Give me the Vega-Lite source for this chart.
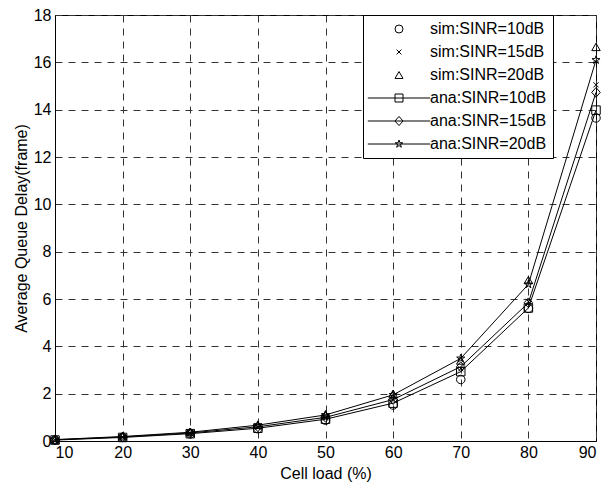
{
  "$schema": "https://vega.github.io/schema/vega-lite/v6.json",
  "width": 541,
  "height": 426,
  "autosize": {"type": "none"},
  "padding": {"left": 55, "top": 15, "right": 7, "bottom": 45},
  "background": "white",
  "config": {
    "font": "Liberation Sans",
    "view": {"stroke": "black", "strokeWidth": 1},
    "axis": {
      "labelFont": "Liberation Sans",
      "labelFontSize": 16,
      "labelColor": "black",
      "titleFont": "Liberation Sans",
      "titleFontSize": 16,
      "titleFontWeight": "normal",
      "titleColor": "black",
      "domainColor": "black",
      "ticks": false,
      "tickSize": 0,
      "grid": true,
      "gridColor": "#333333",
      "gridDash": [7, 6],
      "gridOpacity": 1,
      "gridWidth": 1
    },
    "legend": {
      "labelFont": "Liberation Sans",
      "labelFontSize": 16,
      "labelColor": "black"
    }
  },
  "data": {
    "values": [
      {"load": 10, "delay": 0.04, "series": "sim:SINR=10dB"},
      {"load": 20, "delay": 0.15, "series": "sim:SINR=10dB"},
      {"load": 30, "delay": 0.30, "series": "sim:SINR=10dB"},
      {"load": 40, "delay": 0.52, "series": "sim:SINR=10dB"},
      {"load": 50, "delay": 0.88, "series": "sim:SINR=10dB"},
      {"load": 60, "delay": 1.52, "series": "sim:SINR=10dB"},
      {"load": 70, "delay": 2.60, "series": "sim:SINR=10dB"},
      {"load": 80, "delay": 5.60, "series": "sim:SINR=10dB"},
      {"load": 90, "delay": 13.65, "series": "sim:SINR=10dB"},
      {"load": 10, "delay": 0.05, "series": "sim:SINR=15dB"},
      {"load": 20, "delay": 0.17, "series": "sim:SINR=15dB"},
      {"load": 30, "delay": 0.33, "series": "sim:SINR=15dB"},
      {"load": 40, "delay": 0.58, "series": "sim:SINR=15dB"},
      {"load": 50, "delay": 0.98, "series": "sim:SINR=15dB"},
      {"load": 60, "delay": 1.75, "series": "sim:SINR=15dB"},
      {"load": 70, "delay": 3.05, "series": "sim:SINR=15dB"},
      {"load": 80, "delay": 5.90, "series": "sim:SINR=15dB"},
      {"load": 90, "delay": 15.05, "series": "sim:SINR=15dB"},
      {"load": 10, "delay": 0.06, "series": "sim:SINR=20dB"},
      {"load": 20, "delay": 0.20, "series": "sim:SINR=20dB"},
      {"load": 30, "delay": 0.38, "series": "sim:SINR=20dB"},
      {"load": 40, "delay": 0.68, "series": "sim:SINR=20dB"},
      {"load": 50, "delay": 1.12, "series": "sim:SINR=20dB"},
      {"load": 60, "delay": 2.00, "series": "sim:SINR=20dB"},
      {"load": 70, "delay": 3.40, "series": "sim:SINR=20dB"},
      {"load": 80, "delay": 6.80, "series": "sim:SINR=20dB"},
      {"load": 90, "delay": 16.65, "series": "sim:SINR=20dB"},
      {"load": 10, "delay": 0.04, "series": "ana:SINR=10dB"},
      {"load": 20, "delay": 0.15, "series": "ana:SINR=10dB"},
      {"load": 30, "delay": 0.31, "series": "ana:SINR=10dB"},
      {"load": 40, "delay": 0.54, "series": "ana:SINR=10dB"},
      {"load": 50, "delay": 0.92, "series": "ana:SINR=10dB"},
      {"load": 60, "delay": 1.60, "series": "ana:SINR=10dB"},
      {"load": 70, "delay": 2.93, "series": "ana:SINR=10dB"},
      {"load": 80, "delay": 5.62, "series": "ana:SINR=10dB"},
      {"load": 90, "delay": 13.98, "series": "ana:SINR=10dB"},
      {"load": 10, "delay": 0.05, "series": "ana:SINR=15dB"},
      {"load": 20, "delay": 0.17, "series": "ana:SINR=15dB"},
      {"load": 30, "delay": 0.34, "series": "ana:SINR=15dB"},
      {"load": 40, "delay": 0.60, "series": "ana:SINR=15dB"},
      {"load": 50, "delay": 1.00, "series": "ana:SINR=15dB"},
      {"load": 60, "delay": 1.75, "series": "ana:SINR=15dB"},
      {"load": 70, "delay": 3.14, "series": "ana:SINR=15dB"},
      {"load": 80, "delay": 5.84, "series": "ana:SINR=15dB"},
      {"load": 90, "delay": 14.73, "series": "ana:SINR=15dB"},
      {"load": 10, "delay": 0.06, "series": "ana:SINR=20dB"},
      {"load": 20, "delay": 0.19, "series": "ana:SINR=20dB"},
      {"load": 30, "delay": 0.37, "series": "ana:SINR=20dB"},
      {"load": 40, "delay": 0.67, "series": "ana:SINR=20dB"},
      {"load": 50, "delay": 1.10, "series": "ana:SINR=20dB"},
      {"load": 60, "delay": 1.95, "series": "ana:SINR=20dB"},
      {"load": 70, "delay": 3.49, "series": "ana:SINR=20dB"},
      {"load": 80, "delay": 6.62, "series": "ana:SINR=20dB"},
      {"load": 90, "delay": 16.10, "series": "ana:SINR=20dB"}
    ]
  },
  "encoding": {
    "x": {
      "field": "load", "type": "quantitative",
      "scale": {"domain": [10, 90], "nice": false, "zero": false},
      "axis": {"values": [10, 20, 30, 40, 50, 60, 70, 80, 90], "title": "Cell load (%)", "labelPadding": 3, "titlePadding": 5}
    },
    "y": {
      "field": "delay", "type": "quantitative",
      "scale": {"domain": [0, 18], "nice": false},
      "axis": {"values": [0, 2, 4, 6, 8, 10, 12, 14, 16, 18], "title": "Average Queue Delay(frame)", "labelPadding": 4, "titlePadding": 4}
    }
  },
  "layer": [
    {
      "transform": [{"filter": "indexof(datum.series, 'ana') == 0"}],
      "mark": {"type": "line", "color": "black", "strokeWidth": 1},
      "encoding": {"detail": {"field": "series"}}
    },
    {
      "mark": {"type": "point", "filled": false, "stroke": "black", "strokeWidth": 1, "size": 72, "opacity": 1},
      "encoding": {
        "shape": {
          "field": "series", "type": "nominal",
          "scale": {
            "domain": ["sim:SINR=10dB", "sim:SINR=15dB", "sim:SINR=20dB", "ana:SINR=10dB", "ana:SINR=15dB", "ana:SINR=20dB"],
            "range": [
              "circle",
              "M-0.6,-0.6L0.6,0.6M-0.6,0.6L0.6,-0.6",
              "triangle-up",
              "M-1,-1H1V1H-1Z",
              "M0,-1.15L1,0L0,1.15L-1,0Z",
              "M0,-1L0.225,-0.309L0.951,-0.309L0.363,0.118L0.588,0.809L0,0.382L-0.588,0.809L-0.363,0.118L-0.951,-0.309L-0.225,-0.309Z"
            ]
          },
          "legend": null
        }
      }
    },
    {
      "mark": {"type": "point", "filled": false, "stroke": "black", "strokeWidth": 1, "size": 64, "opacity": 0},
      "encoding": {
        "shape": {
          "field": "series", "type": "nominal",
          "scale": {
            "domain": ["sim:SINR=10dB", "sim:SINR=15dB", "sim:SINR=20dB", "ana:SINR=10dB", "ana:SINR=15dB", "ana:SINR=20dB"],
            "range": [
              "circle",
              "M-0.6,-0.6L0.6,0.6M-0.6,0.6L0.6,-0.6",
              "triangle-up",
              "M-7.8,0H7.8M-1,-1H1V1H-1Z",
              "M-7.8,0H7.8M0,-1.15L1,0L0,1.15L-1,0Z",
              "M-7.8,0H7.8M0,-1L0.225,-0.309L0.951,-0.309L0.363,0.118L0.588,0.809L0,0.382L-0.588,0.809L-0.363,0.118L-0.951,-0.309L-0.225,-0.309Z"
            ]
          },
          "legend": {
            "title": null,
            "orient": "none",
            "legendX": 308,
            "legendY": 0,
            "strokeColor": "black",
            "fillColor": "white",
            "padding": 6,
            "symbolSize": 64,
            "symbolOpacity": 1,
            "symbolStrokeColor": "black",
            "symbolFillColor": "transparent",
            "symbolStrokeWidth": 1,
            "symbolOffset": 22,
            "labelOffset": 23,
            "rowPadding": 7,
            "cornerRadius": 0
          }
        }
      }
    }
  ],
  "resolve": {"scale": {"shape": "independent"}}
}
